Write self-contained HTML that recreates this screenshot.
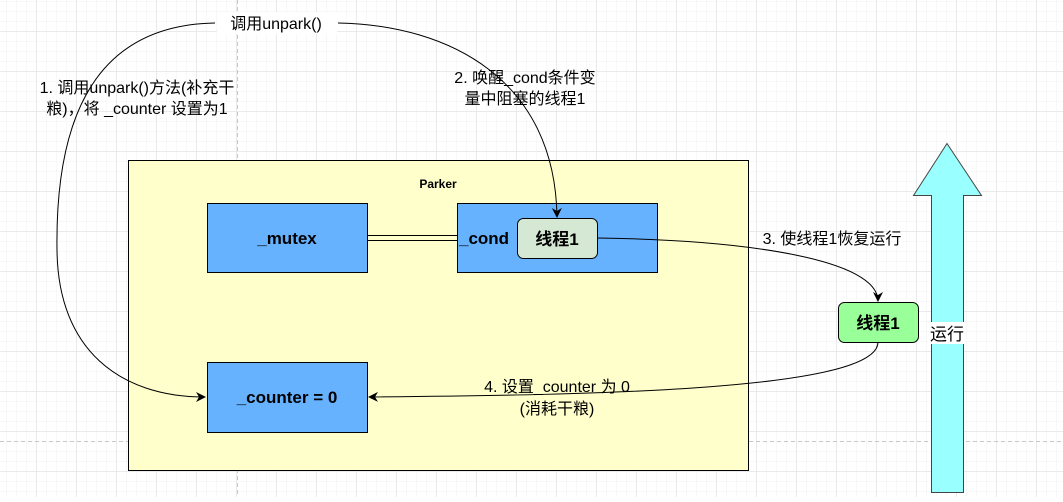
<!DOCTYPE html>
<html><head><meta charset="utf-8"><style>
html,body{margin:0;padding:0;}
body{width:1063px;height:497px;overflow:hidden;background:#fff;font-family:"Liberation Sans","Noto Sans CJK SC",sans-serif;}
</style></head><body>
<svg width="1063" height="497" xmlns="http://www.w3.org/2000/svg" font-family="Liberation Sans, Noto Sans CJK SC, sans-serif">
<defs>
<pattern id="minor" width="10" height="10" patternUnits="userSpaceOnUse" x="7" y="2">
<path d="M10 0V10M0 10H10" fill="none" stroke="#f2f2f2" stroke-width="1"/></pattern>
<pattern id="major" width="40" height="40" patternUnits="userSpaceOnUse" x="-3.5" y="-8.5">
<path d="M40 0V40M0 40H40" fill="none" stroke="#e2e2e2" stroke-width="1"/></pattern>
<marker id="ar" markerWidth="10" markerHeight="10" refX="9" refY="5" orient="auto" markerUnits="userSpaceOnUse">
<path d="M0,0 L10,5 L0,10 L3,5 Z" fill="#000"/></marker>
</defs>
<rect width="1063" height="497" fill="url(#minor)"/>
<rect width="1063" height="497" fill="url(#major)"/>
<line x1="237.5" y1="0" x2="237.5" y2="497" stroke="#c8c8c8" stroke-dasharray="4,3"/>
<line x1="0" y1="441.5" x2="1063" y2="441.5" stroke="#c8c8c8" stroke-dasharray="4,3"/>

<rect x="128.5" y="160.5" width="620" height="310" fill="#ffffcc" stroke="#000"/>
<text x="438" y="188" font-size="12" font-weight="bold" text-anchor="middle">Parker</text>

<rect x="207.5" y="203.5" width="160" height="69" fill="#66b2ff" stroke="#000"/>
<text x="287" y="244" font-size="17" font-weight="bold" text-anchor="middle">_mutex</text>
<rect x="457.5" y="203.5" width="200" height="69" fill="#66b2ff" stroke="#000"/>
<text x="459" y="244" font-size="17" font-weight="bold">_cond</text>
<rect x="517.5" y="218.5" width="80" height="40" rx="6" fill="#d5e8d4" stroke="#000"/>
<text x="557" y="245" font-size="17" font-weight="bold" text-anchor="middle">线程1</text>
<line x1="368" y1="235.5" x2="457" y2="235.5" stroke="#000"/>
<line x1="368" y1="240.5" x2="457" y2="240.5" stroke="#000"/>

<rect x="207.5" y="362.5" width="160" height="70" fill="#66b2ff" stroke="#000"/>
<text x="287" y="403" font-size="17" font-weight="bold" text-anchor="middle">_counter = 0</text>

<rect x="838.5" y="302.5" width="80" height="40" rx="6" fill="#99ff99" stroke="#000"/>
<text x="878" y="329" font-size="17" font-weight="bold" text-anchor="middle">线程1</text>

<path d="M931.5,492.5 V195.5 H913.5 L947,143.5 L981.5,195.5 H963.5 V492.5 Z" fill="#99ffff" stroke="#444"/>
<rect x="929" y="322" width="36" height="22" fill="#fff"/>
<text x="947" y="340" font-size="17" text-anchor="middle">运行</text>

<g fill="none" stroke="#000" stroke-width="1">
<path d="M215,23 C100,25 55,110 57,250 C58,350 120,397 205,397" marker-end="url(#ar)"/>
<path d="M338,23 C450,25 555,80 557,217" marker-end="url(#ar)"/>
<path d="M597,238 C750,240 878,260 878,301" marker-end="url(#ar)"/>
<path d="M878,342 C878,390 600,395 369,397" marker-end="url(#ar)"/>
</g>

<rect x="217" y="12" width="120" height="22" fill="#fff"/>
<text x="276" y="29" font-size="16" text-anchor="middle">调用unpark()</text>
<text x="137" y="93" font-size="16" text-anchor="middle">1. 调用unpark()方法(补充干</text>
<text x="137" y="114" font-size="16" text-anchor="middle">粮)，将 _counter 设置为1</text>
<text x="525" y="83" font-size="16" text-anchor="middle">2. 唤醒_cond条件变</text>
<text x="525" y="104" font-size="16" text-anchor="middle">量中阻塞的线程1</text>
<text x="832" y="244" font-size="16" text-anchor="middle">3. 使线程1恢复运行</text>
<text x="557" y="392" font-size="16" text-anchor="middle">4. 设置_counter 为 0</text>
<text x="557" y="414" font-size="16" text-anchor="middle">(消耗干粮)</text>
</svg>
</body></html>
